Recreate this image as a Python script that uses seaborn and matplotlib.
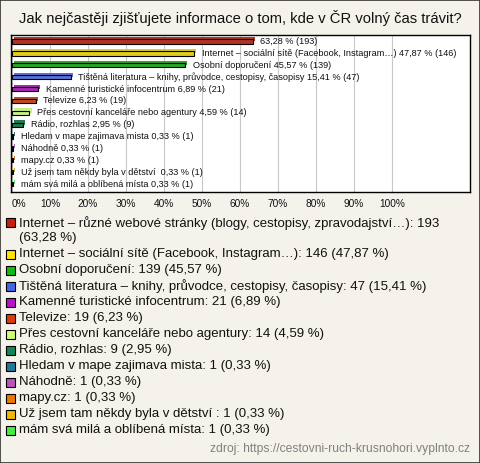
import matplotlib
matplotlib.use("Agg")
import matplotlib.pyplot as plt
import matplotlib.patheffects as pe
from matplotlib.patches import Rectangle
import seaborn as sns
import pandas as pd

categories = [
    "Internet – různé webové stránky (blogy, cestopisy, zpravodajství…)",
    "Internet – sociální sítě (Facebook, Instagram…)",
    "Osobní doporučení",
    "Tištěná literatura – knihy, průvodce, cestopisy, časopisy",
    "Kamenné turistické infocentrum",
    "Televize",
    "Přes cestovní kanceláře nebo agentury",
    "Rádio, rozhlas",
    "Hledam v mape zajimava mista",
    "Náhodně",
    "mapy.cz",
    "Už jsem tam někdy byla v dětství ",
    "mám svá milá a oblíbená místa",
]
counts = [193, 146, 139, 47, 21, 19, 14, 9, 1, 1, 1, 1, 1]
percents = [63.28, 47.87, 45.57, 15.41, 6.89, 6.23, 4.59, 2.95, 0.33, 0.33, 0.33, 0.33, 0.33]
colors = ["#c8200e", "#ffe600", "#12bb12", "#4466e6", "#bb11cc", "#dd3a0a",
          "#ccff77", "#118855", "#1f7a99", "#bb55bb", "#ee7700", "#eebb00", "#44ee44"]
xticks = list(range(0, 101, 10))
title = "Jak nejčastěji zjišťujete informace o tom, kde v ČR volný čas trávit?"
source = "zdroj: https://cestovni-ruch-krusnohori.vyplnto.cz"

sns.set_theme(style="white")
plt.rcParams["font.family"] = ["Liberation Sans", "DejaVu Sans"]

W, H = 480, 463
fig = plt.figure(figsize=(W / 100, H / 100), dpi=100)
bg = "#f4f2ea"
fig.patch.set_facecolor(bg)

def fx(px):
    return px / W

def fy(py):
    return 1 - py / H

ax_l, ax_r, ax_t, ax_b = 11, 470, 35, 192
ax = fig.add_axes([fx(ax_l), fy(ax_b), fx(ax_r - ax_l), (ax_b - ax_t) / H])
ax.set_facecolor("white")

df = pd.DataFrame({"cat": categories, "pct": percents, "n": counts})
sns.barplot(data=df, y="cat", x="pct", hue="cat", palette=colors, orient="h",
            dodge=False, width=0.36, edgecolor="black", linewidth=0.8,
            legend=False, ax=ax)

for p in ax.patches:
    fc = p.get_facecolor()
    p.set_path_effects([pe.SimplePatchShadow(offset=(1.6, 1.6), shadow_rgbFace=fc, alpha=1.0),
                        pe.Normal()])

ax.set_xlim(-0.26, 120.5)
ax.set_ylim(len(categories) - 1 + 0.67, -0.55)
ax.set_xticks(xticks)
ax.set_xticklabels([f"{t}%" for t in xticks], fontsize=7.3)
ax.set_yticks([])
ax.set_xlabel("")
ax.set_ylabel("")
ax.tick_params(axis="x", length=0, pad=5, colors="#111111")
ax.get_xticklabels()[0].set_horizontalalignment("left")
ax.grid(axis="x", color="#c8c8c8", linewidth=0.8)
ax.set_axisbelow(True)
for s in ax.spines.values():
    s.set_edgecolor("black")
    s.set_linewidth(1.0)

def fmt(v):
    return f"{v:.2f}".replace(".", ",")

for i, (c, v, n) in enumerate(zip(categories, percents, counts)):
    name = "" if i == 0 else c + " "
    ax.text(v + 2.0, i, f"{name}{fmt(v)} % ({n})", va="center", ha="left",
            fontsize=6.6, color="#111111")

fig.text(0.5, fy(18), title, ha="center", va="center", fontsize=10.6, color="#111111")

# legend
fs = 9.5
y = 222
lx_box, lx_txt = 6, 19
for i, (c, v, n, col) in enumerate(zip(categories, percents, counts, colors)):
    fig.patches.append(Rectangle((fx(lx_box), fy(y + 4.5)), fx(9), 9 / H, facecolor=col,
                                 edgecolor="black", linewidth=0.8, transform=fig.transFigure))
    if i == 0:
        label = f"{c}: {n}\n({fmt(v)} %)"
        fig.text(fx(lx_txt), fy(230), label, ha="left", va="center",
                 fontsize=fs, color="#111111", linespacing=1.2)
        y += 32
    else:
        label = f"{c}: {n} ({fmt(v)} %)"
        fig.text(fx(lx_txt), fy(y), label, ha="left", va="center",
                 fontsize=fs, color="#111111")
        y += 16

fig.text(fx(470), fy(449), source, ha="right", va="center", fontsize=8.7, color="#808080")

fig.patches.append(Rectangle((0.001, 0.001), 0.998, 0.998, fill=False, edgecolor="#333333",
                             linewidth=1.2, transform=fig.transFigure))

fig.savefig("out.png", dpi=100, facecolor=bg)
